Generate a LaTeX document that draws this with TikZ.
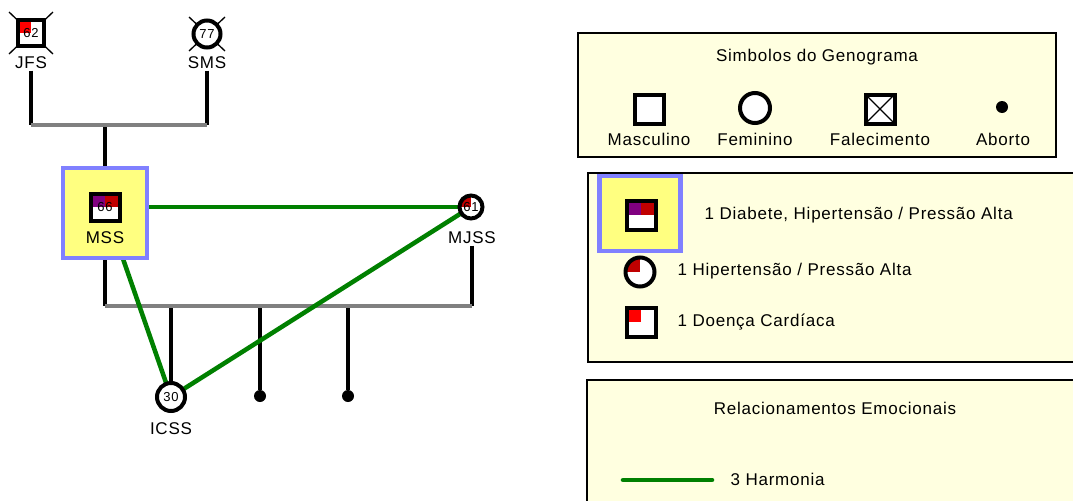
\documentclass[tikz,border=0pt]{standalone}
\usepackage{fontspec}
\setmainfont{Liberation Sans}[LetterSpace=4.5]
\usepackage{tikz}
\usetikzlibrary{positioning,backgrounds}
\usepackage{xcolor}
\definecolor{harmgreen}{RGB}{0,128,0}
\definecolor{hilite}{RGB}{255,255,128}
\definecolor{hiliteline}{RGB}{128,128,255}
\definecolor{legbg}{RGB}{255,255,224}
\definecolor{bargray}{RGB}{128,128,128}
\definecolor{cardred}{RGB}{255,0,0}
\definecolor{hyperred}{RGB}{192,0,0}
\definecolor{diabpurple}{RGB}{128,0,128}
\newcommand{\lblfont}{\fontsize{12.75}{14}\selectfont}
\newcommand{\numfont}{\fontsize{9.75}{10}\selectfont}
\tikzset{
  male/.style={rectangle,draw,line width=3pt,fill=white,inner sep=0pt,minimum size=19.5pt,font=\numfont},
  female/.style={circle,draw,line width=3pt,fill=white,inner sep=0pt,minimum size=20.25pt,font=\numfont},
  abrt/.style={circle,fill=black,inner sep=0pt,minimum size=9pt},
  heart/.style={path picture={\fill[cardred] (path picture bounding box.north west) rectangle (path picture bounding box.center);}},
  hyper/.style={path picture={\fill[hyperred] (path picture bounding box.north west) rectangle (path picture bounding box.center);}},
  diabhyper/.style={path picture={
    \fill[diabpurple] (path picture bounding box.north west) rectangle (path picture bounding box.center);
    \fill[hyperred] (path picture bounding box.north east) rectangle (path picture bounding box.center);}},
  deadbox/.style={path picture={
    \draw[line width=1pt] (path picture bounding box.north west) -- (path picture bounding box.south east);
    \draw[line width=1pt] (path picture bounding box.north east) -- (path picture bounding box.south west);}},
  hl/.style={rectangle,draw=hiliteline,fill=hilite,line width=3.4pt,inner sep=0pt},
  legbox/.style={draw,fill=legbg,line width=1pt},
  lbl/.style={font=\lblfont,inner sep=1pt},
  kin/.style={line width=3pt},
  bar/.style={line width=3.6pt,draw=bargray},
  harm/.style={line width=3.4pt,draw=harmgreen},
  xmark/.style={line width=1pt}
}

\begin{document}
\begin{tikzpicture}[x=0.75pt,y=-0.75pt]
\useasboundingbox (0,0) rectangle (1073,500);
\clip (0,0) rectangle (1073,500);
% legend frames
\draw[legbox] (578,33) rectangle (1056,157);
\draw[legbox] (588,173) rectangle (1090,362);
\draw[legbox] (587,380) rectangle (1090,520);
% highlight boxes
\node[hl,minimum width=63pt,minimum height=67.5pt] (mssBox) at (105,213) {};
\node[hl,minimum width=60.75pt,minimum height=56.25pt] (lgBox) at (640,213.5) {};
% genogram
\node[male,heart] (jfs) at (31,33) {62};
\node[female] (sms) at (207,34) {77};
\node[male,minimum width=21.75pt,minimum height=20.25pt,diabhyper] (mss) at (105,207) {66};
\node[female,minimum size=17.25pt,hyper] (mjss) at (471,207) {61};
\node[female,minimum size=21pt] (icss) at (171,397) {30};
\node[abrt] (ab1) at (260,396) {};
\node[abrt] (ab2) at (348,396) {};
\node[lbl] (jfsL) at (31,63) {JFS};
\node[lbl] (smsL) at (207,63) {SMS};
\node[lbl] (mssL) at (105,238) {MSS};
\node[lbl] (mjssL) at (472,238) {MJSS};
\node[lbl] (icssL) at (171,429) {ICSS};
\coordinate (pa) at (31,125);
\coordinate (pb) at (207,125);
\coordinate (pc) at (105,125);
\coordinate (qa) at (105,306);
\coordinate (qb) at (472,306);
\coordinate (q1) at (171,306);
\coordinate (q2) at (260,306);
\coordinate (q3) at (348,306);
\begin{scope}[on background layer]
\draw[xmark] ([shift={(-22,-21)}]jfs.center) -- ([shift={(22,21)}]jfs.center);
\draw[xmark] ([shift={(22,-21)}]jfs.center) -- ([shift={(-22,21)}]jfs.center);
\draw[xmark] ([shift={(-18,-17)}]sms.center) -- ([shift={(18,17)}]sms.center);
\draw[xmark] ([shift={(18,-17)}]sms.center) -- ([shift={(-18,17)}]sms.center);
\draw[kin] (jfsL) -- (pa);
\draw[kin] (smsL) -- (pb);
\draw[kin] (pc) -- (mss);
\draw[kin] (mssL) -- (qa);
\draw[kin] (mjssL) -- (qb);
\draw[kin] (q1) -- (icss);
\draw[kin] (q2) -- (ab1);
\draw[kin] (q3) -- (ab2);
\draw[bar] (pa) -- (pb);
\draw[bar] (qa) -- (qb);
\draw[harm] (mss.center) -- (mjss.center);
\draw[harm] (mss.center) -- (icss.center);
\draw[harm] (icss.center) -- (mjss.center);
\end{scope}
% legend: simbolos
\node[lbl] (symT) at (817,57) {Simbolos do Genograma};
\node[male,minimum size=21.75pt] (lgM) at (649,109) {};
\node[female,minimum size=22.5pt] (lgF) at (755,108) {};
\node[male,minimum size=21.75pt,deadbox] (lgD) at (880,109) {};
\node[abrt] (lgA) at (1002,107) {};
\node[lbl] (lgML) at (649,139) {Masculino};
\node[lbl] (lgFL) at (755,139) {Feminino};
\node[lbl] (lgDL) at (880,139) {Falecimento};
\node[lbl] (lgAL) at (1003,139) {Aborto};
% legend: doencas
\node[male,minimum size=21.75pt,diabhyper] (lgDH) at (641,215) {};
\node[female,minimum size=21.75pt,hyper] (lgH) at (640,272) {};
\node[male,minimum size=21.75pt,heart] (lgC) at (641,322) {};
\node[lbl,anchor=west] (lgDHL) at (703,215) {1 Diabete, Hipertensão / Pressão Alta};
\node[lbl,anchor=west] (lgHL) at (676,271) {1 Hipertensão / Pressão Alta};
\node[lbl,anchor=west] (lgCL) at (676,322) {1 Doença Cardíaca};
% legend: relacionamentos
\node[lbl] (relT) at (835,408) {Relacionamentos Emocionais};
\coordinate (h1) at (623,480);
\coordinate (h2) at (712,480);
\draw[harm,line cap=round] (h1) -- (h2);
\node[lbl,anchor=west] (hL) at (729,479) {3 Harmonia};
\end{tikzpicture}
\end{document}
